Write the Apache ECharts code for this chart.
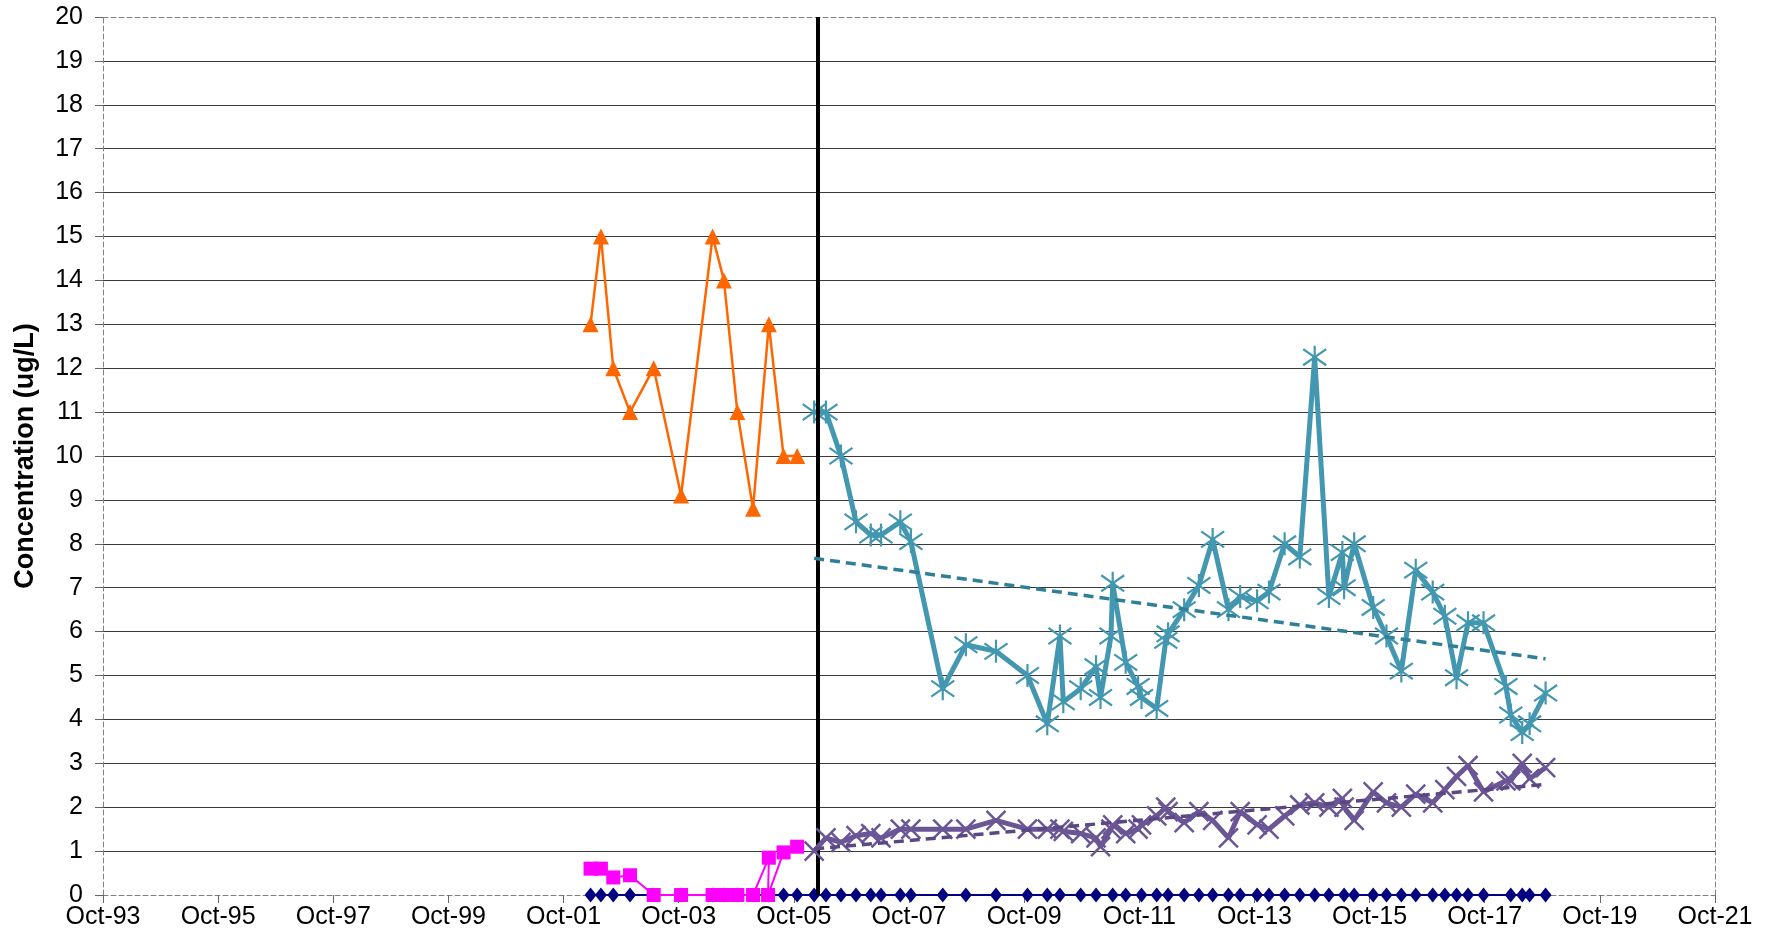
<!DOCTYPE html>
<html><head><meta charset="utf-8">
<script src="https://cdn.jsdelivr.net/npm/echarts@6/dist/echarts.min.js"></script>
<style>html,body{margin:0;padding:0;background:#fff}#c{width:1771px;height:942px}</style>
</head><body><div id="c"></div>
<script>
// ---- tick labels ----
const xTickLabels = ['Oct-93','Oct-95','Oct-97','Oct-99','Oct-01','Oct-03','Oct-05','Oct-07','Oct-09','Oct-11','Oct-13','Oct-15','Oct-17','Oct-19','Oct-21'];
const yTitle = 'Concentration (ug/L)';

// ---- pre-2006 sampling (orange triangles) ----
const preDates = ['2002-03-20','2002-05-25','2002-08-12','2002-11-27','2003-04-25','2003-10-16','2004-05-03','2004-07-14','2004-10-08','2005-01-16','2005-04-25','2005-07-27','2005-10-22'];
const orangeVals = [13, 15, 12, 11, 12, 9.1, 15, 14, 11, 8.8, 13, 10, 10];

// ---- magenta squares ----
const magentaDates = ['2002-03-20','2002-05-25','2002-08-12','2002-11-27','2003-04-25','2003-10-16','2004-05-03','2004-07-14','2004-10-08','2005-01-16','2005-04-25','2005-04-20','2005-07-27','2005-10-22'];
const magentaVals = [0.6, 0.6, 0.4, 0.45, 0, 0, 0, 0, 0, 0, 0.85, 0, 0.97, 1.1];

// ---- post-2006 sampling (teal asterisks, purple crosses) ----
const postDates = ['2006-02-08','2006-04-22','2006-07-26','2006-10-30','2007-02-02','2007-04-06','2007-08-07','2007-10-13','2008-05-02','2008-09-27',
  '2009-04-05','2009-10-22','2010-02-26','2010-05-15','2010-06-06','2010-09-25','2010-12-31','2011-01-29','2011-04-04','2011-04-15',
  '2011-07-06','2011-09-24','2011-10-15','2012-01-20','2012-03-17','2012-04-01','2012-07-12','2012-10-14','2013-01-10','2013-04-19',
  '2013-07-02','2013-10-18','2014-01-02','2014-04-10','2014-07-15','2014-10-18','2015-01-17','2015-04-11','2015-04-22','2015-06-25',
  '2015-10-24','2016-01-17','2016-04-20','2016-07-20','2016-11-06','2017-01-22','2017-04-05','2017-06-17','2017-09-24','2018-02-14',
  '2018-03-14','2018-05-26','2018-07-12','2018-10-22'];
const tealVals = [11.0, 11.0, 10.0, 8.5, 8.2, 8.2, 8.5, 8.05, 4.7, 5.7,
  5.55, 5.0, 3.9, 5.9, 4.4, 4.7, 5.2, 4.5, 5.9, 7.1,
  5.3, 4.75, 4.5, 4.25, 5.8, 5.95, 6.5, 7.05, 8.1, 6.5,
  6.8, 6.7, 6.9, 8.0, 7.7, 12.25, 6.8, 7.8, 7.0, 8.0,
  6.55, 5.9, 5.1, 7.4, 6.9, 6.35, 4.95, 6.2, 6.2, 4.75,
  4.1, 3.7, 3.9, 4.6];
const purpleVals = [1.0, 1.3, 1.2, 1.35, 1.4, 1.3, 1.5, 1.5, 1.5, 1.5,
  1.7, 1.5, 1.5, 1.5, 1.45, 1.4, 1.3, 1.1, 1.5, 1.6,
  1.4, 1.5, 1.6, 1.8, 2.0, 1.9, 1.65, 1.9, 1.7, 1.3,
  1.9, 1.6, 1.5, 1.8, 2.05, 2.1, 2.0, 2.2, 2.0, 1.7,
  2.35, 2.1, 2.0, 2.3, 2.1, 2.4, 2.7, 2.95, 2.35, 2.6,
  2.6, 3.0, 2.65, 2.9];

// ---- navy diamonds (all at zero) ----
const navyDates = ['2002-03-20','2002-05-25','2002-08-12','2002-11-27','2003-04-25','2003-10-16','2004-05-03','2004-07-14','2004-10-08','2005-01-16','2005-04-25','2005-07-27','2005-10-22',
  '2006-02-08','2006-04-22','2006-07-26','2006-10-30','2007-02-02','2007-04-06','2007-08-07','2007-10-13','2008-05-02','2008-09-27',
  '2009-04-05','2009-10-22','2010-02-26','2010-05-15','2010-09-25','2010-12-31','2011-04-15','2011-07-06','2011-10-15','2012-01-20',
  '2012-04-01','2012-07-12','2012-10-14','2013-01-10','2013-04-19','2013-07-02','2013-10-18','2014-01-02','2014-04-10','2014-07-15',
  '2014-10-18','2015-01-17','2015-04-22','2015-06-25','2015-10-24','2016-01-17','2016-04-20','2016-07-20','2016-11-06','2017-01-22',
  '2017-04-05','2017-06-17','2017-09-24','2018-03-14','2018-05-26','2018-07-12','2018-10-22'];
const navyVals = [0,0,0,0,0,0,0,0,0,0,0,0,0,
  0,0,0,0,0,0,0,0,0,0,
  0,0,0,0,0,0,0,0,0,0,
  0,0,0,0,0,0,0,0,0,0,
  0,0,0,0,0,0,0,0,0,0,
  0,0,0,0,0,0,0];

// ---- trend lines (end points) ----
const trendDates = ['2006-02-08','2018-10-22'];
const tealTrend = [7.67, 5.38];
const purpleTrend = [1.05, 2.52];

// ---- divider ----
const dividerDate = '2006-02-28';

function toM(d){const p=d.split('-').map(Number);return (p[0]-1993)*12+(p[1]-10)+(p[2]-1)/30.5;}
function pairs(dates, vals){return dates.map((d,i)=>[toM(d), vals[i]]);}

const FONT = 'Liberation Sans, Arial, sans-serif';
const dashedAxis = {show:true, onZero:false, lineStyle:{color:'#808080', type:[5,3], width:1}};
const asterisk = 'path://M10,0L10,20M1,3L19,17M1,17L19,3';
const cross = 'path://M0,0L20,20M0,20L20,0';

const chart = echarts.init(document.getElementById('c'), null, {renderer:'canvas'});
chart.setOption({
  animation:false,
  backgroundColor:'#fff',
  grid:{left:103, right:56, top:17, bottom:47, containLabel:false},
  xAxis:[{
    type:'value', min:0, max:336, interval:24, position:'bottom',
    axisLine:dashedAxis,
    axisTick:{show:true, inside:false, length:8, lineStyle:{color:'#666'}},
    axisLabel:{color:'#000', fontSize:25, fontFamily:FONT, margin:10,
      formatter:(v)=>xTickLabels[Math.round(v/24)]},
    splitLine:{show:false}
  },{
    type:'value', min:0, max:336, position:'top',
    axisLine:dashedAxis, axisTick:{show:false}, axisLabel:{show:false}, splitLine:{show:false}
  }],
  yAxis:[{
    type:'value', min:0, max:20, interval:1, position:'left',
    axisLine:dashedAxis,
    axisTick:{show:true, inside:false, length:8, lineStyle:{color:'#666'}},
    axisLabel:{color:'#000', fontSize:25, fontFamily:FONT, margin:20},
    splitLine:{show:true, showMinLine:false, showMaxLine:false, lineStyle:{color:'#3a3a3a', width:1.2}},
    name:yTitle, nameLocation:'middle', nameGap:64,
    nameTextStyle:{color:'#000', fontSize:27, fontWeight:'bold', fontFamily:FONT}
  },{
    type:'value', min:0, max:20, position:'right',
    axisLine:dashedAxis, axisTick:{show:false}, axisLabel:{show:false}, splitLine:{show:false}
  }],
  series:[
    {type:'line', name:'navy', data:pairs(navyDates, navyVals), z:2,
      symbol:'diamond', symbolSize:[12,15], showAllSymbol:true,
      lineStyle:{color:'#000080', width:2}, itemStyle:{color:'#000080'},
      markLine:{silent:true, symbol:['none','none'], label:{show:false},
        lineStyle:{color:'#000', width:4, type:'solid'},
        data:[{xAxis: toM(dividerDate)}]}
    },
    {type:'line', name:'magenta', data:pairs(magentaDates, magentaVals), z:3,
      symbol:'rect', symbolSize:14, showAllSymbol:true,
      lineStyle:{color:'#FF00FF', width:2}, itemStyle:{color:'#FF00FF'}},
    {type:'line', name:'orange', data:pairs(preDates, orangeVals), z:3,
      symbol:'triangle', symbolSize:16, showAllSymbol:true,
      lineStyle:{color:'#FF6600', width:2.5}, itemStyle:{color:'#FF6600'}},
    {type:'line', name:'teal', data:pairs(postDates, tealVals), z:4,
      symbol:asterisk, symbolSize:23, showAllSymbol:true,
      lineStyle:{color:'#4397B0', width:5}, itemStyle:{color:'#4397B0', borderColor:'#4397B0', borderWidth:2.2}},
    {type:'line', name:'purple', data:pairs(postDates, purpleVals), z:5,
      symbol:cross, symbolSize:19, showAllSymbol:true,
      lineStyle:{color:'#6B5695', width:5}, itemStyle:{color:'#6B5695', borderColor:'#6B5695', borderWidth:2.5}},
    {type:'line', name:'tealTrend', data:pairs(trendDates, tealTrend), z:6, symbol:'none',
      lineStyle:{color:'#2F7F99', width:3.5, type:[10,6]}},
    {type:'line', name:'purpleTrend', data:pairs(trendDates, purpleTrend), z:6, symbol:'none',
      lineStyle:{color:'#5B4784', width:3.5, type:[10,6]}}
  ]
});
</script></body></html>
